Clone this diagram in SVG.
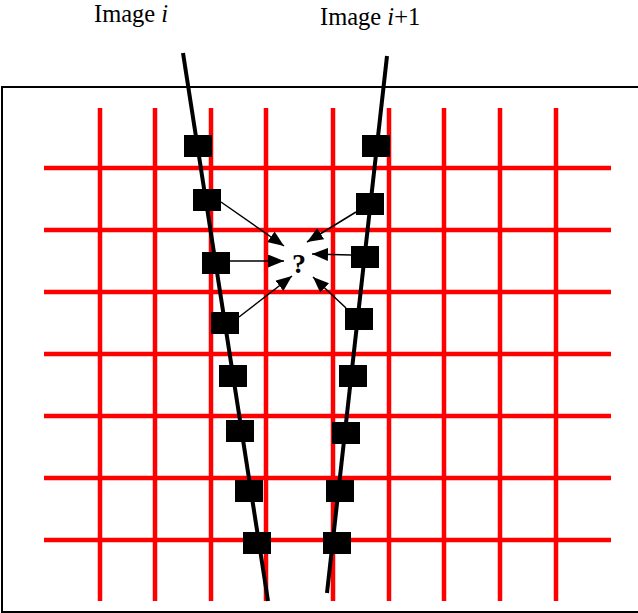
<svg xmlns="http://www.w3.org/2000/svg" width="638" height="613" viewBox="0 0 638 613">
<style>
.grid line{stroke:#ff0000;stroke-width:4.5}
.track{stroke:#000;stroke-width:4;fill:none}
.sq{fill:#000}
.arr{stroke:#000;stroke-width:1.5;marker-end:url(#ah)}
.lbl{font-family:"Liberation Serif",serif;font-size:24.5px;fill:#000}
</style>
<defs>
<marker id="ah" viewBox="0 0 16 13" refX="16" refY="6.5" markerWidth="16" markerHeight="13" markerUnits="userSpaceOnUse" orient="auto">
<path d="M0,0 L16,6.5 L0,13 Z" fill="#000"/>
</marker>
</defs>
<rect x="2" y="87" width="640" height="525" fill="#fff" stroke="#000" stroke-width="2"/>
<g id="grid" class="grid">
<line x1="100" y1="108" x2="100" y2="601"/>
<line x1="155" y1="108" x2="155" y2="601"/>
<line x1="211" y1="108" x2="211" y2="601"/>
<line x1="266" y1="108" x2="266" y2="601"/>
<line x1="333" y1="108" x2="333" y2="601"/>
<line x1="389" y1="108" x2="389" y2="601"/>
<line x1="444" y1="108" x2="444" y2="601"/>
<line x1="500" y1="108" x2="500" y2="601"/>
<line x1="556" y1="108" x2="556" y2="601"/>
<line x1="44" y1="168" x2="611" y2="168"/>
<line x1="44" y1="230" x2="611" y2="230"/>
<line x1="44" y1="292" x2="611" y2="292"/>
<line x1="44" y1="354" x2="611" y2="354"/>
<line x1="44" y1="416" x2="611" y2="416"/>
<line x1="44" y1="478" x2="611" y2="478"/>
<line x1="44" y1="540" x2="611" y2="540"/>
</g>
<g id="track-i">
<line class="track" x1="183" y1="53" x2="268" y2="601"/>
</g>
<g id="track-i1">
<line class="track" x1="387" y1="56" x2="327" y2="593"/>
</g>
<g id="samples-i" class="sq">
<rect x="184" y="135" width="28" height="22"/>
<rect x="193" y="189" width="28" height="22"/>
<rect x="202" y="252" width="28" height="22"/>
<rect x="211" y="312" width="28" height="22"/>
<rect x="219" y="365" width="28" height="22"/>
<rect x="226" y="420" width="28" height="22"/>
<rect x="235" y="480" width="28" height="22"/>
<rect x="243" y="532" width="28" height="22"/>
</g>
<g id="samples-i1" class="sq">
<rect x="362" y="135" width="28" height="22"/>
<rect x="356" y="193" width="28" height="22"/>
<rect x="351" y="246" width="28" height="22"/>
<rect x="345" y="308" width="28" height="22"/>
<rect x="339" y="365" width="28" height="22"/>
<rect x="332" y="422" width="28" height="22"/>
<rect x="326" y="480" width="28" height="22"/>
<rect x="323" y="532" width="28" height="22"/>
</g>
<g id="query">
<text x="299" y="273" text-anchor="middle" style="font-family:'Liberation Serif',serif;font-size:28px;font-weight:bold">?</text>
</g>
<g id="connectors">
<line class="arr" x1="221" y1="202" x2="284" y2="246"/>
<line class="arr" x1="230" y1="261" x2="284" y2="261"/>
<line class="arr" x1="239" y1="317" x2="292" y2="276"/>
<line class="arr" x1="356" y1="212" x2="307" y2="242"/>
<line class="arr" x1="351" y1="255" x2="312" y2="254"/>
<line class="arr" x1="346" y1="308" x2="313" y2="277"/>
</g>
<g id="labels">
<text class="lbl" x="94" y="22">Image <tspan font-style="italic">i</tspan></text>
<text class="lbl" x="320" y="25">Image <tspan font-style="italic">i</tspan>+1</text>
</g>
</svg>
